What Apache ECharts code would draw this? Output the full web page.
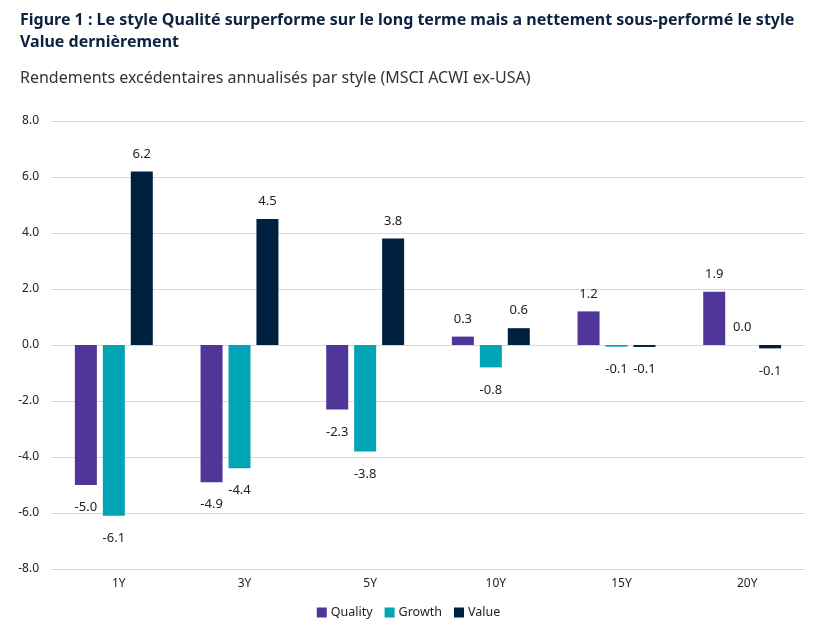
<!DOCTYPE html>
<html><head><meta charset="utf-8">
<script src="https://cdn.jsdelivr.net/npm/echarts@6/dist/echarts.min.js"></script>
<style>html,body{margin:0;padding:0;background:#fff}#c{width:817px;height:629px}</style>
</head><body><div id="c"></div>
<script>
const categories = ['1Y', '3Y', '5Y', '10Y', '15Y', '20Y'];
const quality = [-5.0, -4.9, -2.3, 0.3, 1.2, 1.9];
const growth = [-6.1, -4.4, -3.8, -0.8, -0.06, 0.0];
const value = [6.2, 4.5, 3.8, 0.6, -0.07, -0.12];
const yTicks = { min: -8, max: 8, interval: 2 };

const chart = echarts.init(document.getElementById('c'));
const font = '"Noto Sans", "Open Sans", sans-serif';
function mk(name, data, color) {
  return {
    name, type: 'bar',
    data: data.map(v => ({
      value: v,
      label: v < 0 ? { position: 'bottom', distance: 16 } : { position: 'top', distance: 11 }
    })),
    itemStyle: { color },
    barGap: '27%', barCategoryGap: '38%',
    label: {
      show: true,
      color: '#222', fontFamily: font, fontSize: 13,
      formatter: p => p.value.toFixed(1)
    }
  };
}
chart.setOption({
  animation: false,
  title: [{
    text: 'Figure 1 : Le style Qualité surperforme sur le long terme mais a nettement sous-performé le style\nValue dernièrement',
    left: 15, top: 4,
    textStyle: { fontFamily: font, fontWeight: 'bold', fontSize: 16, color: '#0d2240', lineHeight: 22 }
  }, {
    text: 'Rendements excédentaires annualisés par style (MSCI ACWI ex-USA)',
    left: 15, top: 65,
    textStyle: { fontFamily: font, fontWeight: 'normal', fontSize: 16, color: '#333' }
  }],
  legend: {
    bottom: 5, left: 'center', itemWidth: 10, itemHeight: 10, itemGap: 12,
    icon: 'rect',
    textStyle: { fontFamily: font, fontSize: 12.5, color: '#222', padding: [0, 0, 0, -1] },
    data: ['Quality', 'Growth', 'Value']
  },
  grid: { left: 51, right: 12, top: 121, bottom: 60, containLabel: false },
  xAxis: {
    type: 'category', data: categories,
    axisLine: { show: false, onZero: false }, axisTick: { show: false },
    axisLabel: { fontFamily: font, fontSize: 12, color: '#222', margin: 9, padding: [0, 0, 0, 10] }
  },
  yAxis: {
    type: 'value', min: yTicks.min, max: yTicks.max, interval: yTicks.interval,
    axisLine: { show: false }, axisTick: { show: false },
    splitLine: { lineStyle: { color: '#d9d9d9', width: 1 } },
    axisLabel: { fontFamily: font, fontSize: 12, color: '#222', margin: 12, formatter: v => v.toFixed(1) }
  },
  series: [mk('Quality', quality, '#51369a'), mk('Growth', growth, '#00a4b5'), mk('Value', value, '#002040')]
});
</script></body></html>
